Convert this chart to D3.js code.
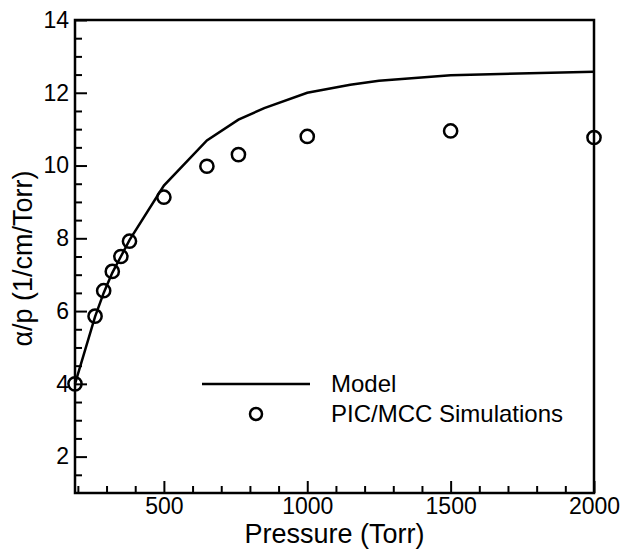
<!DOCTYPE html>
<html>
<head>
<meta charset="utf-8">
<script src="https://cdn.jsdelivr.net/npm/d3@7"></script>
<style>
  body { margin: 0; background: #fff; }
  svg { display: block; font-family: "Liberation Sans", Arial, sans-serif; }
</style>
</head>
<body>
<div id="root"></div>
<script>
// Model curve (pressure in Torr, alpha/p in 1/cm/Torr)
const modelP = [190, 260, 290, 320, 350, 380, 500, 650, 760, 850, 1000, 1150, 1250, 1500, 2000];
const modelA = [4.0, 5.85, 6.5, 7.05, 7.5, 7.95, 9.45, 10.69, 11.26, 11.58, 12.0, 12.22, 12.33, 12.48, 12.58];

// PIC/MCC simulation points
const simP = [190, 260, 290, 320, 350, 380, 500, 650, 760, 1000, 1500, 2000];
const simA = [4.0, 5.86, 6.56, 7.09, 7.5, 7.92, 9.13, 9.98, 10.3, 10.8, 10.95, 10.77];

const xTicks = [500, 1000, 1500, 2000];
const yTicks = [2, 4, 6, 8, 10, 12, 14];

const width = 622;
const height = 550;
const margin = { left: 75, right: 28, top: 20, bottom: 57 };

const svg = d3.select("#root")
  .append("svg")
    .attr("width", width)
    .attr("height", height);

const xScale = d3.scaleLinear()
  .domain([190, 2000])
  .range([margin.left, width - margin.right]);

const yScale = d3.scaleLinear()
  .domain([1, 14])
  .range([height - margin.bottom, margin.top]);

// minor ticks every 100 Torr / 0.5 units
const xMinor = d3.range(200, 2000, 100).filter(v => v % 500 !== 0);
const yMinor = d3.range(1.5, 14, 0.5).filter(v => v % 2 !== 0);

const styleAxis = g => {
  g.select(".domain").remove();
  g.selectAll(".tick line").attr("stroke", "#000").attr("stroke-width", 2);
  g.selectAll(".tick text")
    .attr("fill", "#000")
    .style("font-size", "23px")
    .style("font-family", "Liberation Sans, Arial, sans-serif");
};

svg.append("g")
  .attr("transform", `translate(0, ${height - margin.bottom})`)
  .call(d3.axisBottom(xScale).tickValues(xMinor).tickSize(-7).tickFormat(""))
  .call(styleAxis);

svg.append("g")
  .attr("transform", `translate(0, ${height - margin.bottom})`)
  .call(d3.axisBottom(xScale).tickValues(xTicks).tickSize(-12).tickPadding(5).tickFormat(d3.format("d")))
  .call(styleAxis);

svg.append("g")
  .attr("transform", `translate(${margin.left}, 0)`)
  .call(d3.axisLeft(yScale).tickValues(yMinor).tickSize(-7).tickFormat(""))
  .call(styleAxis);

svg.append("g")
  .attr("transform", `translate(${margin.left}, 0)`)
  .call(d3.axisLeft(yScale).tickValues(yTicks).tickSize(-12).tickPadding(6).tickFormat(d3.format("d")))
  .call(styleAxis);

// frame
svg.append("rect")
  .attr("x", xScale.range()[0])
  .attr("y", yScale.range()[1])
  .attr("width", xScale.range()[1] - xScale.range()[0])
  .attr("height", yScale.range()[0] - yScale.range()[1])
  .attr("fill", "none")
  .attr("stroke", "#000")
  .attr("stroke-width", 2.5);

// model line
const lineCreator = d3.line()
  .x(d => xScale(d[0]))
  .y(d => yScale(d[1]));

svg.append("path")
  .datum(modelP.map((p, i) => [p, modelA[i]]))
    .attr("d", lineCreator)
    .attr("fill", "none")
    .attr("stroke", "#000")
    .attr("stroke-width", 2.5);

// simulation circles
svg.selectAll("circle.sim")
  .data(simP.map((p, i) => [p, simA[i]]))
  .enter()
  .append("circle")
    .attr("class", "sim")
    .attr("cx", d => xScale(d[0]))
    .attr("cy", d => yScale(d[1]))
    .attr("r", 6.6)
    .attr("fill", "none")
    .attr("stroke", "#000")
    .attr("stroke-width", 2.5);

// axis titles
svg.append("text")
  .text("Pressure (Torr)")
  .attr("x", (xScale.range()[0] + xScale.range()[1]) / 2)
  .attr("y", 543)
  .attr("text-anchor", "middle")
  .style("font-size", "27px");

svg.append("text")
  .text("α/p (1/cm/Torr)")
  .attr("transform", `translate(32, ${(yScale.range()[0] + yScale.range()[1]) / 2 + 2}) rotate(-90)`)
  .attr("text-anchor", "middle")
  .style("font-size", "27px");

// legend
const legend = svg.append("g");
legend.append("line")
  .attr("x1", 202).attr("x2", 310)
  .attr("y1", 384).attr("y2", 384)
  .attr("stroke", "#000")
  .attr("stroke-width", 2.5);
legend.append("text")
  .text("Model")
  .attr("x", 331).attr("y", 392)
  .style("font-size", "24px");
legend.append("circle")
  .attr("cx", 256).attr("cy", 414)
  .attr("r", 6)
  .attr("fill", "none")
  .attr("stroke", "#000")
  .attr("stroke-width", 2.5);
legend.append("text")
  .text("PIC/MCC Simulations")
  .attr("x", 331).attr("y", 422)
  .style("font-size", "24px");
</script>
</body>
</html>
